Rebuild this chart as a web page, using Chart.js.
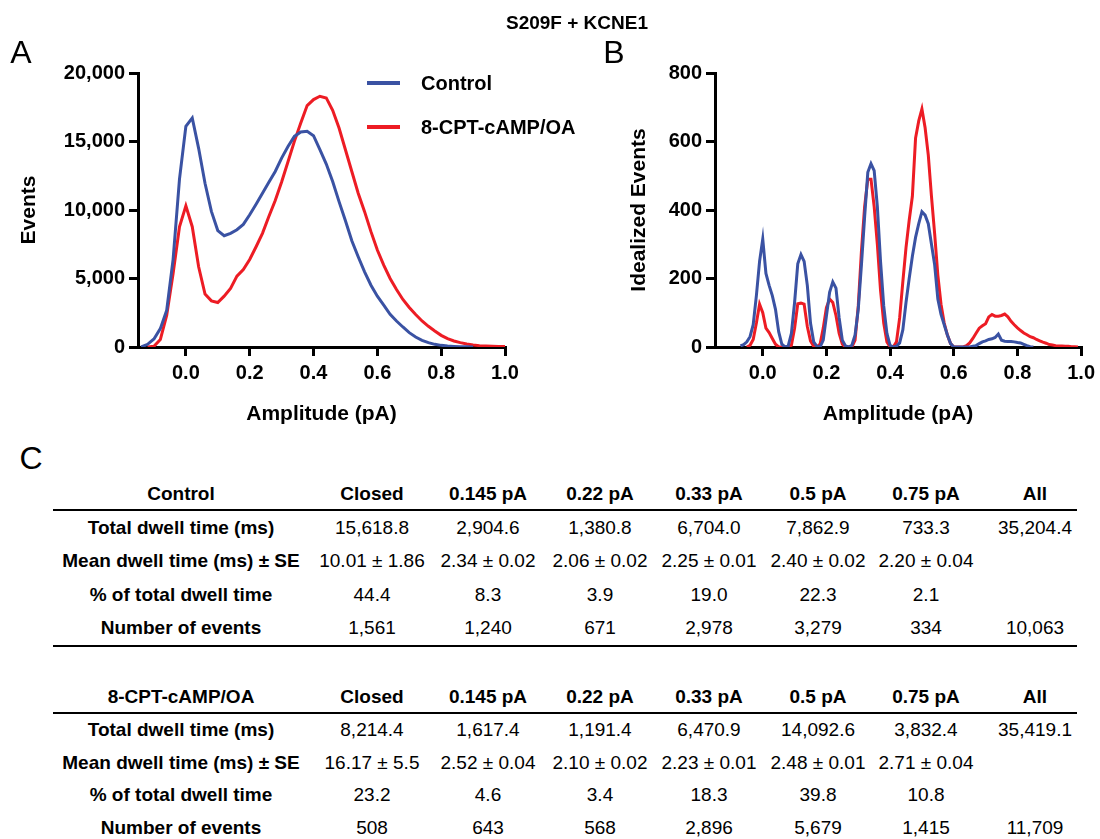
<!DOCTYPE html>
<html>
<head>
<meta charset="utf-8">
<script src="https://cdn.jsdelivr.net/npm/chart.js@4.4.0/dist/chart.umd.min.js"></script>
<style>
  body { margin: 0; background: #fff; }
  #fig { position: relative; width: 1100px; height: 839px; overflow: hidden;
         font-family: 'Liberation Sans', Arial, sans-serif; color: #000; }
  #fig canvas { position: absolute; top: 0; }
  .lbl { position: absolute; transform: translate(-50%, -50%); line-height: 1; white-space: nowrap; }
  .leg { position: absolute; transform: translateY(-50%); line-height: 1; white-space: nowrap;
         font-weight: bold; font-size: 20px; }
  .legline { position: absolute; width: 33px; height: 3.5px; }
  table.dw { position: absolute; left: 53px; width: 1024px; border-collapse: collapse;
             table-layout: fixed; font-size: 19px; }
  table.dw th, table.dw td { padding: 0; text-align: center; white-space: nowrap; }
  table.dw th { font-weight: bold; height: 31px; border-bottom: 2px solid #000; }
  table.dw td:first-child { font-weight: bold; }
  table.dw th:last-child, table.dw td:last-child { padding-left: 18px; }
</style>
</head>
<body>
<div id="fig">
  <canvas id="chartA" width="550" height="431" style="left:0"></canvas>
  <canvas id="chartB" width="550" height="431" style="left:550px"></canvas>

  <div class="lbl" style="left:577px; top:22px; font-size:19px; font-weight:bold">S209F + KCNE1</div>
  <div class="lbl" style="left:21px; top:52px; font-size:32px">A</div>
  <div class="lbl" style="left:614px; top:52px; font-size:32px">B</div>
  <div class="lbl" style="left:31px; top:458px; font-size:32px">C</div>

  <div id="legend"></div>
  <div id="tables"></div>
</div>

<script>
// amplitude bins (pA) for panel A
const ampA = [-0.14, -0.12, -0.10, -0.08, -0.06, -0.04, -0.02, 0.00, 0.02, 0.04,
  0.06, 0.08, 0.10, 0.12, 0.14, 0.16, 0.18, 0.20, 0.22, 0.24,
  0.26, 0.28, 0.30, 0.32, 0.34, 0.36, 0.38, 0.40, 0.42, 0.44,
  0.46, 0.48, 0.50, 0.52, 0.54, 0.56, 0.58, 0.60, 0.62, 0.64,
  0.66, 0.68, 0.70, 0.72, 0.74, 0.76, 0.78, 0.80, 0.82, 0.84,
  0.86, 0.88, 0.90, 0.92, 0.94, 0.96, 0.98, 1.00];

const controlA = [0, 195, 590, 1340, 2680, 6400, 12250, 16100, 16720, 14500,
  11950, 9900, 8500, 8120, 8300, 8560, 8950, 9650, 10420, 11220,
  12030, 12810, 13790, 14640, 15370, 15690, 15740, 15420, 14400, 13350,
  12080, 10610, 9220, 7760, 6590, 5490, 4510, 3710, 3050, 2390,
  1900, 1460, 1050, 730, 490, 320, 195, 120, 70, 40,
  20, 10, 0, null, null, null, null, null];

const camA = [null, 0, 50, 540, 2320, 5370, 8780, 10300, 8780, 5860,
  3860, 3370, 3250, 3710, 4270, 5170, 5660, 6390, 7320, 8300,
  9520, 10690, 12050, 13520, 15010, 16350, 17620, 18060, 18300, 18180,
  17280, 15980, 14400, 12810, 11220, 9880, 8420, 7080, 5980, 5000,
  4200, 3470, 2880, 2370, 1900, 1510, 1170, 850, 610, 440,
  320, 220, 150, 100, 70, 50, 40, 30];

// amplitude bins (pA) for panel B
const ampB = [-0.07, -0.06, -0.05, -0.04, -0.03, -0.02, -0.01, 0.00, 0.01, 0.02,
  0.03, 0.04, 0.05, 0.06, 0.07, 0.08, 0.09, 0.10, 0.11, 0.12,
  0.13, 0.14, 0.15, 0.16, 0.17, 0.18, 0.19, 0.20, 0.21, 0.22,
  0.23, 0.24, 0.25, 0.26, 0.27, 0.28, 0.29, 0.30, 0.31, 0.32,
  0.33, 0.34, 0.35, 0.36, 0.37, 0.38, 0.39, 0.40, 0.41, 0.42,
  0.43, 0.44, 0.45, 0.46, 0.47, 0.48, 0.49, 0.50, 0.51, 0.52,
  0.53, 0.54, 0.55, 0.56, 0.57, 0.58, 0.59, 0.60, 0.61, 0.62,
  0.63, 0.64, 0.65, 0.66, 0.67, 0.68, 0.69, 0.70, 0.71, 0.72,
  0.73, 0.74, 0.75, 0.76, 0.77, 0.78, 0.79, 0.80, 0.81, 0.82,
  0.83, 0.84, 0.85, 0.86, 0.87, 0.88, 0.89, 0.90, 0.91, 0.92,
  0.93, 0.94, 0.95, 0.96, 0.97, 0.98, 0.99];

const controlB = [3, 7, 15, 30, 65, 150, 250, 315, 215, 180,
  150, 110, 45, 8, 0, 3, 40, 130, 243, 270,
  250, 180, 70, 15, 2, 0, 20, 90, 160, 190,
  172, 85, 20, 3, 0, 5, 35, 110, 240, 380,
  510, 535, 515, 410, 250, 120, 40, 5, 0, 2,
  12, 50, 130, 200, 265, 320, 360, 395, 385, 360,
  300, 240, 140, 95, 65, 35, 10, 0, 0, 0,
  0, 0, 0, 2, 4, 10, 15, 18, 22, 24,
  28, 38, 20, 17, 16, 16, 15, 13, 12, 8,
  4, 1, 0, null, null, null, null, null, null, null,
  null, null, null, null, null, null, null];

const camB = [null, null, 0, 5, 22, 70, 125, 100, 55, 42,
  25, 8, 0, 0, 0, 0, 5, 55, 126, 128,
  125, 60, 18, 2, 0, 8, 55, 115, 140, 130,
  92, 40, 8, 0, 0, 0, 20, 120, 280, 410,
  490, 490, 410, 300, 165, 70, 15, 0, 0, 15,
  85, 190, 290, 370, 440, 610, 660, 695, 640, 560,
  440, 330, 210, 125, 70, 35, 10, 0, 0, 0,
  0, 4, 12, 25, 40, 55, 62, 68, 88, 95,
  90, 90, 92, 96, 88, 75, 65, 56, 48, 41,
  36, 30, 27, 22, 18, 14, 11, 7, 6, 4,
  3, 3, 2, 2, 1, 1, 0];

const xTicks = [0, 0.2, 0.4, 0.6, 0.8, 1.0];
const yTicksA = [0, 5000, 10000, 15000, 20000];
const yTicksB = [0, 200, 400, 600, 800];
const seriesNames = ['Control', '8-CPT-cAMP/OA'];
const seriesColors = ['#3a52a3', '#ed1c24'];

// panel C
const tableCols = ['Closed', '0.145 pA', '0.22 pA', '0.33 pA', '0.5 pA', '0.75 pA', 'All'];
const rowLabels = ['Total dwell time (ms)', 'Mean dwell time (ms) ± SE', '% of total dwell time', 'Number of events'];
const controlTable = [
  ['15,618.8', '2,904.6', '1,380.8', '6,704.0', '7,862.9', '733.3', '35,204.4'],
  ['10.01 ± 1.86', '2.34 ± 0.02', '2.06 ± 0.02', '2.25 ± 0.01', '2.40 ± 0.02', '2.20 ± 0.04', ''],
  ['44.4', '8.3', '3.9', '19.0', '22.3', '2.1', ''],
  ['1,561', '1,240', '671', '2,978', '3,279', '334', '10,063']
];
const camTable = [
  ['8,214.4', '1,617.4', '1,191.4', '6,470.9', '14,092.6', '3,832.4', '35,419.1'],
  ['16.17 ± 5.5', '2.52 ± 0.04', '2.10 ± 0.02', '2.23 ± 0.01', '2.48 ± 0.01', '2.71 ± 0.04', ''],
  ['23.2', '4.6', '3.4', '18.3', '39.8', '10.8', ''],
  ['508', '643', '568', '2,896', '5,679', '1,415', '11,709']
];
const colWidths = [256, 126, 106, 118, 100, 118, 98, 102];

Chart.defaults.font.family = "'Liberation Sans', Arial, sans-serif";
Chart.defaults.color = '#000';

function toPoints(xs, ys) {
  return xs.map((x, i) => ({ x: x, y: ys[i] }));
}

function makeChart(id, amp, control, cam, yTicks, yMax, pad, yWidth, yTitle) {
  const ctx = document.getElementById(id).getContext('2d');
  return new Chart(ctx, {
    type: 'line',
    data: {
      datasets: [
        { label: seriesNames[0], data: toPoints(amp, control), borderColor: seriesColors[0] },
        { label: seriesNames[1], data: toPoints(amp, cam), borderColor: seriesColors[1] }
      ]
    },
    options: {
      responsive: false,
      animation: false,
      devicePixelRatio: 1,
      layout: { padding: pad },
      elements: {
        line: { borderWidth: 3, tension: 0, fill: false },
        point: { radius: 0 }
      },
      plugins: { legend: { display: false }, tooltip: { enabled: false } },
      scales: {
        x: {
          type: 'linear',
          min: -0.15,
          max: 1.0,
          afterBuildTicks: (s) => { s.ticks = xTicks.map((v) => ({ value: v })); },
          afterFit: (s) => { s.height = 84; },
          ticks: {
            callback: (v) => v.toFixed(1),
            font: { size: 20, weight: 'bold' },
            padding: 5,
            maxRotation: 0
          },
          grid: { drawOnChartArea: false, drawTicks: true, tickLength: 9, color: '#000', lineWidth: 3 },
          border: { display: true, color: '#000', width: 3 },
          title: { display: true, text: 'Amplitude (pA)', font: { size: 21, weight: 'bold' } }
        },
        y: {
          min: 0,
          max: yMax,
          afterBuildTicks: (s) => { s.ticks = yTicks.map((v) => ({ value: v })); },
          afterFit: (s) => { s.width = yWidth; },
          ticks: {
            callback: (v) => v.toLocaleString('en-US'),
            font: { size: 20, weight: 'bold' },
            padding: 4
          },
          grid: { drawOnChartArea: false, drawTicks: true, tickLength: 9, color: '#000', lineWidth: 3 },
          border: { display: true, color: '#000', width: 3 },
          title: { display: true, text: yTitle, font: { size: 21, weight: 'bold' } }
        }
      }
    }
  });
}

makeChart('chartA', ampA, controlA, camA, yTicksA, 20000,
  { top: 73, left: 13, right: 45, bottom: 0 }, 125, 'Events');
makeChart('chartB', ampB, controlB, camB, yTicksB, 800,
  { top: 73, left: 73, right: 16, bottom: 0 }, 92, 'Idealized Events');

// legend for panel A
const legend = document.getElementById('legend');
seriesNames.forEach((name, i) => {
  const y = 83 + i * 44;
  const line = document.createElement('div');
  line.className = 'legline';
  line.style.left = '367px';
  line.style.top = (y - 1.75) + 'px';
  line.style.background = seriesColors[i];
  legend.appendChild(line);
  const txt = document.createElement('div');
  txt.className = 'leg';
  txt.style.left = '421px';
  txt.style.top = y + 'px';
  txt.textContent = name;
  legend.appendChild(txt);
});

// dwell time tables
function buildTable(title, rows, top, rowH, bottomLine) {
  const t = document.createElement('table');
  t.className = 'dw';
  t.style.top = top + 'px';
  const cg = document.createElement('colgroup');
  colWidths.forEach((w) => {
    const c = document.createElement('col');
    c.style.width = w + 'px';
    cg.appendChild(c);
  });
  t.appendChild(cg);
  const hr = document.createElement('tr');
  [title].concat(tableCols).forEach((h) => {
    const th = document.createElement('th');
    th.textContent = h;
    hr.appendChild(th);
  });
  t.appendChild(hr);
  rows.forEach((r, i) => {
    const tr = document.createElement('tr');
    [rowLabels[i]].concat(r).forEach((v) => {
      const td = document.createElement('td');
      td.textContent = v;
      td.style.height = rowH + 'px';
      if (bottomLine && i === rows.length - 1) td.style.borderBottom = '2px solid #000';
      tr.appendChild(td);
    });
    t.appendChild(tr);
  });
  document.getElementById('tables').appendChild(t);
}

buildTable('Control', controlTable, 478, 33.5, true);
buildTable('8-CPT-cAMP/OA', camTable, 681, 32.5, false);
</script>
</body>
</html>
